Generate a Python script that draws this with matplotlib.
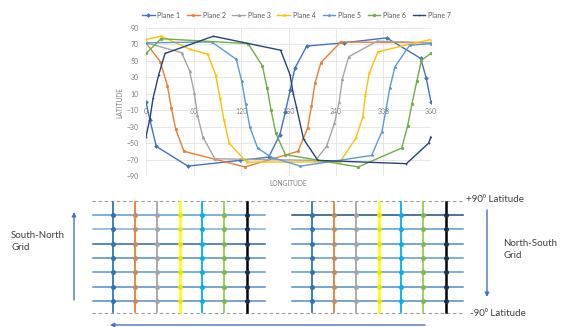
import matplotlib
matplotlib.use("Agg")
import matplotlib.pyplot as plt

plt.rcParams['font.family'] = ['Lato', 'DejaVu Sans']

# ---------------- data (top chart) ----------------
plane_names = ["Plane 1", "Plane 2", "Plane 3", "Plane 4", "Plane 5", "Plane 6", "Plane 7"]
plane_colors = ["#4472C4", "#ED7D31", "#A5A5A5", "#FFC000", "#5B9BD5", "#70AD47", "#264478"]
plane_markers = ["D", "s", "^", "x", "*", "o", "+"]

p1_lon = [0, 5, 13, 53, 119, 155, 169, 176, 182, 188, 203, 250, 304, 347, 354, 360]
p1_lat = [0, -22, -54, -78, -71, -67, -40, -12, 14, 41, 68, 72, 78, 53, 29, 0]

p2_lon = [0, 18, 27, 32, 37.5, 48, 125, 192, 204, 209, 213.5, 221, 246, 360]
p2_lat = [72, 49, 20, -7, -33, -60, -79, -60, -32, -5, 23, 48, 73, 72]

p3_lon = [0, 45, 55, 61, 65, 72, 87, 214, 228, 238, 244, 248, 256, 292, 360]
p3_lat = [72, 60, 38, 11, -16, -43, -69, -71, -54, -26, 0, 28, 55, 74, 72]

p4_lon = [0, 19, 56, 78, 88, 93.5, 98.5, 105, 127, 245, 265, 274, 277, 282, 293, 336, 360]
p4_lat = [76, 80, 64, 58, 33, 5, -22, -50, -73, -73, -44, -18, 8, 35, 61, 71, 76]

p5_lon = [0, 83, 114, 121, 126, 131, 141, 158, 195, 285, 298, 303, 308, 314.5, 333, 360]
p5_lat = [72, 73, 52, 25, -3, -30, -56, -67, -78, -65, -36, -10, 17, 43, 69, 71]

p6_lon = [0, 19, 129, 147, 153, 158, 164, 176, 268, 323, 330.5, 336, 342, 348, 360]
p6_lat = [59, 77, 71, 44, 17, -10, -38, -64, -79, -56, -29, -2, 25, 51, 59]

p7_lon = [0, 5, 9, 16, 24, 85, 170, 182, 186, 190, 199, 217, 329, 357, 360]
p7_lat = [-42, -20, 5, 33, 59, 80, 63, 33, 10, -6, -45, -71, -75, -50, -42]

series_lon = [p1_lon, p2_lon, p3_lon, p4_lon, p5_lon, p6_lon, p7_lon]
series_lat = [p1_lat, p2_lat, p3_lat, p4_lat, p5_lat, p6_lat, p7_lat]

x_ticks = [0, 60, 120, 180, 240, 300, 360]
y_ticks = [90, 70, 50, 30, 10, -10, -30, -50, -70, -90]

# ---------------- data (grid diagram) ----------------
grid_col_colors = ["#2E75B6", "#ED7D31", "#A5A5A5", "#FFFF00", "#00B0F0", "#92D050", "#000000"]
grid_marker_colors = ["#2E75B6", "#C98A5A", "#A5A5A5", "#E8E800", "#00B0F0", "#7FB94A", "#1F2F4F"]
left_row_colors = ["#5B9BD5", "#7FAEDC", "#2F64A8", "#4F8BC9", "#5B9BD5", "#4F8BC9", "#4F8BC9"]
right_row_colors = ["#1F4E79", "#5B9BD5", "#4F8BC9", "#5B9BD5", "#5B9BD5", "#4F8BC9", "#4F8BC9"]

W, H = 562, 327
fig = plt.figure(figsize=(W / 100, H / 100), dpi=100)

# ---------------- top chart ----------------
x0, x1 = 146, 431
y0, y1 = 28, 176
ax = fig.add_axes([x0 / W, 1 - y1 / H, (x1 - x0) / W, (y1 - y0) / H])
for lon, lat, name, c, m in zip(series_lon, series_lat, plane_names, plane_colors, plane_markers):
    ax.plot(lon, lat, color=c, lw=1.0, marker=m, ms=1.9, mew=0.5, label=name,
            solid_joinstyle='round')
ax.set_xlim(0, 360)
ax.set_ylim(-90, 90)
ax.set_xticks(x_ticks)
ax.set_yticks(y_ticks)
ax.grid(True, color="#E3E3E3", lw=0.6)
ax.set_axisbelow(True)
for s in ["top", "right", "left"]:
    ax.spines[s].set_visible(False)
ax.spines["bottom"].set_position(("data", 0))
ax.spines["bottom"].set_color("none")
ax.tick_params(axis="both", length=0, labelsize=5, labelcolor="#7F7F7F")
ax.tick_params(axis="x", pad=4)
ax.tick_params(axis="y", pad=5)

fig.text(288 / W, 1 - 183 / H, "LONGITUDE", ha="center", va="center", fontsize=4.8, color="#7F7F7F")
fig.text(120 / W, 1 - 102 / H, "LATITUDE", ha="center", va="center", rotation=90, fontsize=4.8, color="#7F7F7F")

leg = fig.legend(*ax.get_legend_handles_labels(), loc="center", ncol=7,
                 bbox_to_anchor=(296.5 / W, 1 - 15 / H), frameon=False, fontsize=5,
                 handlelength=1.8, handletextpad=0.4, columnspacing=1.0, borderpad=0)
for t in leg.get_texts():
    t.set_color("#595959")

# ---------------- grid diagram ----------------
ov = fig.add_axes([0, 0, 1, 1])
ov.set_xlim(0, W)
ov.set_ylim(H, 0)
ov.axis("off")
ov.set_zorder(-1)

row_y = [215 + i * 14.33 for i in range(7)]
left_cols = [112.7 + j * 22.33 for j in range(7)]
right_cols = [311.7 + j * 22.33 for j in range(7)]

# dashed latitude limits
for yy in (200.7, 313):
    ov.plot([92, 463], [yy, yy], color="#9A9A9A", lw=0.8, ls=(0, (3, 2.5)))

for cols, rows_c, hx in ((left_cols, left_row_colors, (93, 265)), (right_cols, right_row_colors, (292, 463))):
    for xc, cc in zip(cols, grid_col_colors):
        lw = 1.8 if cc in ("#FFFF00", "#000000") else 1.3
        ov.plot([xc, xc], [201.5, 311.5], color=cc, lw=lw, zorder=2)
    for yy, rc in zip(row_y, rows_c):
        ov.plot(hx, [yy, yy], color=rc, lw=1.1, zorder=3)
    for xc, mc in zip(cols, grid_marker_colors):
        ov.plot([xc] * len(row_y), row_y, ls="none", marker="o", ms=3.6, color=mc, mew=0, zorder=4)

txt_kw = dict(fontsize=7, color="#404040", va="center", ha="left")
ov.text(11, 235, "South-North", **txt_kw)
ov.text(11, 248, "Grid", **txt_kw)
ov.text(503, 243, "North-South", **txt_kw)
ov.text(503, 256, "Grid", **txt_kw)
ov.text(466, 200, "+90\u2070 Latitude", **txt_kw)
ov.text(470, 313, "-90\u2070 Latitude", **txt_kw)

arrow_c = "#4472C4"
ap = dict(arrowstyle="-|>", color=arrow_c, lw=1.0, mutation_scale=6, shrinkA=0, shrinkB=0)
ov.annotate("", xy=(74, 212), xytext=(74, 300), arrowprops=ap)
ov.annotate("", xy=(487, 297), xytext=(487, 210), arrowprops=ap)
ov.annotate("", xy=(110, 325), xytext=(425, 325), arrowprops=ap)

fig.savefig("out.png", dpi=100)
